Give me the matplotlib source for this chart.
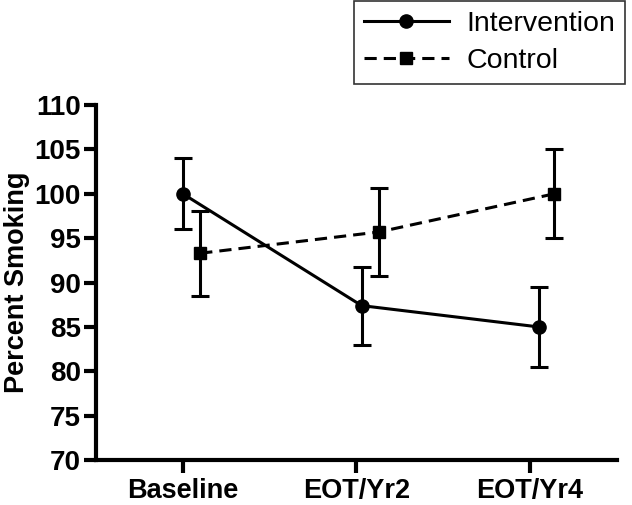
import numpy as np
import matplotlib
matplotlib.use("Agg")
import matplotlib.pyplot as plt

plt.rcParams['font.family'] = ['Liberation Sans', 'DejaVu Sans']

categories = ["Baseline", "EOT/Yr2", "EOT/Yr4"]
interv_mean = [100.0, 87.4, 85.0]
interv_err = [4.0, 4.4, 4.5]
ctrl_mean = [93.3, 95.7, 100.0]
ctrl_err = [4.8, 5.0, 5.0]

x = np.arange(len(categories))
interv_dodge = np.array([0.0, 0.03, 0.05])
ctrl_dodge = np.array([0.1, 0.13, 0.14])

fig = plt.figure(figsize=(6.32, 5.05), dpi=100)
ax = fig.add_axes([0.152, 0.089, 0.824, 0.703])

lw = 2.2
ax.errorbar(x + interv_dodge, interv_mean, yerr=interv_err, color="black",
            lw=lw, marker="o", ms=9.5, capsize=6.5, capthick=lw, elinewidth=lw,
            label="Intervention")
ax.errorbar(x + ctrl_dodge, ctrl_mean, yerr=ctrl_err, color="black",
            lw=lw, ls=(0, (4, 2.3)), marker="s", ms=8.5, capsize=6.5,
            capthick=lw, elinewidth=lw, label="Control")

ax.set_xlim(-0.5, 2.5)
ax.set_ylim(70, 110)
ax.set_yticks(np.arange(70, 111, 5))
ax.set_xticks(x)
ax.set_xticklabels(categories, fontsize=19.5, fontweight="bold")
for t in ax.get_yticklabels():
    t.set_fontsize(20)
    t.set_fontweight("bold")
ax.tick_params(width=3, length=9, pad=2)
ax.tick_params(axis="x", pad=4)
ax.set_ylabel("Percent Smoking", fontsize=19.5, fontweight="bold", labelpad=3)

for s in ["top", "right"]:
    ax.spines[s].set_visible(False)
for s in ["left", "bottom"]:
    ax.spines[s].set_linewidth(3)

handles, labels = ax.get_legend_handles_labels()
handles = [h[0] for h in handles]
leg = fig.legend(handles, labels, loc="upper right",
                 bbox_to_anchor=(625 / 632, 1 - 1 / 505), fontsize=20.5,
                 frameon=True, fancybox=False, edgecolor="black",
                 handlelength=3, borderpad=0.35, labelspacing=0.4,
                 handletextpad=0.6, borderaxespad=0)
leg.get_frame().set_linewidth(1.2)

fig.savefig("out.png", dpi=100)
